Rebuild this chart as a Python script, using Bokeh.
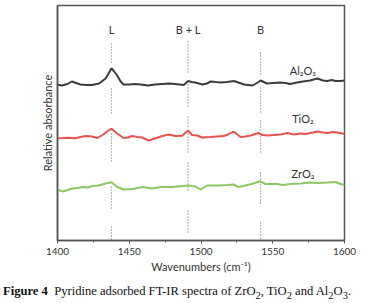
from bokeh.plotting import figure
from bokeh.models import Range1d, FixedTicker, Div
from bokeh.layouts import column
from bokeh.core.properties import value
from bokeh.embed import file_html
from bokeh.resources import INLINE

# Al2O3 spectrum (relative absorbance, offset, a.u.)
al_wn = [1400, 1403, 1407, 1410, 1413, 1416, 1420, 1424, 1429, 1433.5, 1436, 1437.6, 1439.5, 1441.6, 1444, 1446,
         1450, 1454, 1458, 1463, 1468, 1473, 1478, 1482, 1488, 1491, 1493.5, 1496, 1501, 1504, 1507, 1510, 1514,
         1518, 1523, 1526, 1530, 1536, 1539, 1541.5, 1546, 1550, 1555, 1559, 1562, 1567, 1571, 1576, 1581,
         1585, 1588, 1591, 1594, 1597, 1600]
al_y = [155.7, 155, 156.5, 159, 157.5, 156, 155.5, 155.5, 157, 162, 168, 172.3, 169, 165, 159, 156,
        156, 156.5, 156, 155, 156, 156.5, 157, 156.5, 155.5, 159.5, 158.5, 158, 156, 157, 159, 158.5, 158,
        158.5, 159.5, 158, 156, 155, 157.5, 160, 157, 157.5, 158, 157.5, 156.5, 158, 159, 160, 162,
        160, 159.5, 160.5, 159.5, 159.5, 160]

# TiO2 spectrum
ti_wn = [1400, 1404, 1407.7, 1412.5, 1416, 1419.5, 1424, 1427.7, 1432, 1435, 1437.6, 1441.6, 1446, 1449, 1452,
         1456, 1459, 1463.6, 1468.3, 1473, 1477.4, 1482.2, 1486.9, 1491, 1493.8, 1497.4, 1500.8, 1506.6,
         1511, 1515.7, 1519, 1522.7, 1527.5, 1531, 1534.5, 1540, 1543, 1546.3, 1551, 1555.4, 1560.3, 1564.5,
         1569.3, 1573, 1576.3, 1581.2, 1585, 1588.2, 1592, 1595.1, 1600]
ti_y = [102.3, 102.5, 102.7, 102.3, 103.5, 104.5, 104, 102.5, 106, 109.5, 111.7, 107, 102.5, 103, 104.5,
        103.5, 103, 100, 102.3, 104.5, 106, 104.5, 104.7, 110, 105.5, 105, 103, 103.5,
        104, 104.5, 106, 109, 103.5, 104, 105, 107.5, 105.5, 105, 105.5, 106, 107.5, 106,
        107, 106.5, 107.5, 109, 108, 107.5, 108.5, 108, 106.5]

# ZrO2 spectrum
zr_wn = [1400, 1404.2, 1407, 1410.5, 1414, 1417.4, 1421, 1424.4, 1428.6, 1433.5, 1437.6, 1439.5, 1441.8, 1446,
         1452.3, 1456, 1459.2, 1466.2, 1470, 1473.2, 1480.1, 1487.1, 1491.3, 1496.2, 1499.7, 1504.5, 1511.5,
         1518.5, 1522.7, 1526.1, 1532.4, 1536.6, 1540.8, 1545, 1549, 1553.3, 1556.8, 1562.4, 1569.3, 1576.3,
         1581.2, 1588.2, 1593.7, 1597.2, 1600]
zr_y = [50.7, 49, 50.5, 52, 52.5, 53.5, 53, 54.5, 55, 57, 58.3, 56, 53.5, 51,
        51.5, 52.5, 53.5, 52, 53, 53.5, 53.5, 54.5, 55, 54, 51, 55, 55,
        55.5, 56, 53.5, 55.5, 57, 59.3, 56.5, 56.5, 56.5, 55.5, 56.5, 57, 58,
        57.5, 58, 58.5, 56.5, 55.5]

series_names = ["Al\u2082O\u2083", "TiO\u2082", "ZrO\u2082"]
band_labels = ["L", "B + L", "B"]
band_wn = [1437.6, 1491, 1541.5]
x_ticks = [1400, 1450, 1500, 1550, 1600]

W = 368
p = figure(width=W, height=280, output_backend="svg", toolbar_location=None,
           x_range=Range1d(1400, 1600), y_range=Range1d(0, 235),
           min_border_left=57, min_border_right=24, min_border_top=5, min_border_bottom=40)
p.grid.visible = False
p.background_fill_color = "white"
p.border_fill_color = "white"
p.outline_line_color = "#555555"
p.outline_line_width = 1.5

# dashed band markers (segments broken around the curves)
seg_L = [(240 - 43, 240 - 63), (240 - 88, 240 - 113), (240 - 133, 240 - 163), (240 - 186, 240 - 208), (240 - 226, 240 - 240)]
seg_BL = [(240 - 41, 240 - 73), (240 - 84, 240 - 108), (240 - 116, 240 - 127), (240 - 133, 240 - 153), (240 - 162, 240 - 192), (240 - 210, 240 - 234)]
seg_B = [(240 - 52, 240 - 76), (240 - 87, 240 - 113), (240 - 120, 240 - 130), (240 - 136, 240 - 153), (240 - 172, 240 - 205), (240 - 222, 240 - 240)]
xs, ys = [], []
for wn, segs in zip(band_wn, [seg_L, seg_BL, seg_B]):
    for a, b in segs:
        xs.append([wn, wn])
        ys.append([a, b])
p.multi_line(xs, ys, line_color="#777777", line_width=1.2, line_dash="1 2")

p.line(al_wn, al_y, line_color="#3c3c3c", line_width=2)
p.line(ti_wn, ti_y, line_color="#e8534f", line_width=2)
p.line(zr_wn, zr_y, line_color="#8dc764", line_width=2)

font = "Lato"
p.text(x=band_wn, y=[211, 211, 211], text=band_labels, text_font=value(font), text_font_size="11px",
       text_color="#333333", text_align="center", text_baseline="middle")
p.text(x=[1571, 1571, 1571], y=[170, 122, 67], text=series_names, text_font=value(font),
       text_font_size="11px", text_color="#333333", text_align="center", text_baseline="middle")

p.xaxis.ticker = FixedTicker(ticks=x_ticks, minor_ticks=[1425, 1475, 1525, 1575])
p.xaxis.axis_label = "Wavenumbers (cm\u207b\u00b9)"
p.xaxis.axis_label_text_font = font
p.xaxis.axis_label_text_font_style = "normal"
p.xaxis.axis_label_text_font_size = "11px"
p.xaxis.axis_label_text_color = "#333333"
p.xaxis.axis_label_standoff = 2
p.xaxis.major_label_text_font = font
p.xaxis.major_label_text_font_size = "10px"
p.xaxis.major_label_text_color = "#333333"
p.xaxis.major_label_standoff = 4
p.xaxis.axis_line_color = "#555555"
p.xaxis.axis_line_width = 1.5
p.xaxis.major_tick_line_color = "#555555"
p.xaxis.minor_tick_line_color = "#555555"
p.xaxis.major_tick_in = 0
p.xaxis.major_tick_out = 3
p.xaxis.minor_tick_in = 0
p.xaxis.minor_tick_out = 2

p.yaxis.ticker = FixedTicker(ticks=[])
p.yaxis.major_label_text_font_size = "0px"
p.yaxis.axis_label = "Relative absorbance"
p.yaxis.axis_label_text_font = font
p.yaxis.axis_label_text_font_style = "normal"
p.yaxis.axis_label_text_font_size = "11px"
p.yaxis.axis_label_text_color = "#333333"
p.yaxis.axis_label_standoff = 4
p.yaxis.axis_line_color = "#555555"
p.yaxis.axis_line_width = 1.5
p.yaxis.major_tick_line_color = None
p.yaxis.minor_tick_line_color = None

caption = Div(
    text=("<b>Figure 4</b>&nbsp; Pyridine adsorbed FT-IR spectra of ZrO<sub>2</sub>, "
          "TiO<sub>2</sub> and Al<sub>2</sub>O<sub>3</sub>."),
    width=W, height=23, margin=(0, 0, 0, 0),
    styles={"font-family": "'Liberation Serif', serif", "font-size": "12.6px", "color": "#111111",
            "padding-left": "3px", "padding-top": "5px", "white-space": "nowrap", "line-height": "1"})

layout = column(p, caption, spacing=0)
open("out.html", "w").write(file_html(layout, INLINE))
